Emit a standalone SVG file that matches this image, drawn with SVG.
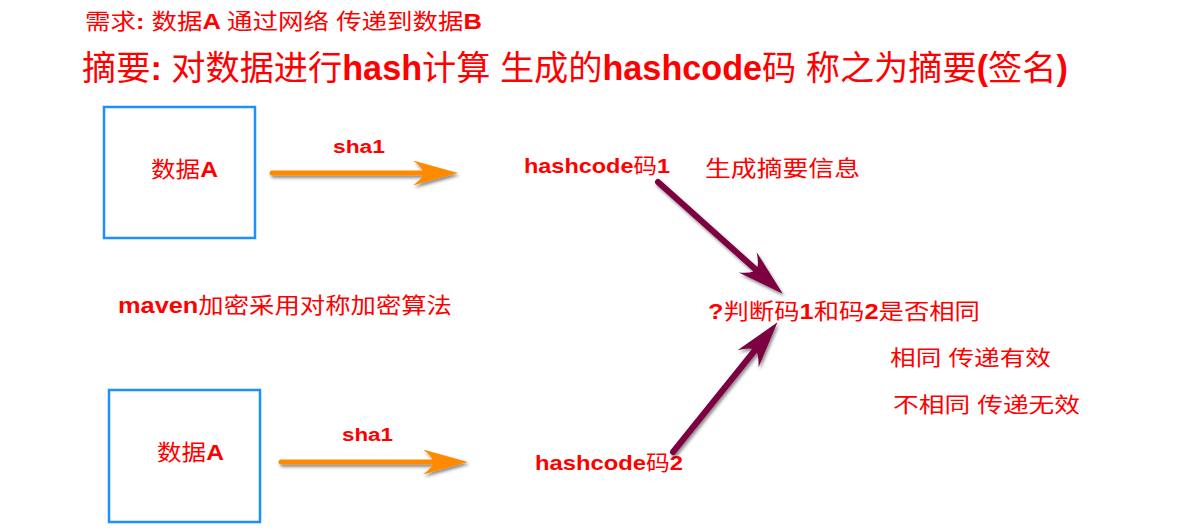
<svg xmlns="http://www.w3.org/2000/svg" width="1184" height="531" viewBox="0 0 1184 531">
  <style>
    text { font-family: "Liberation Sans", "Noto Sans CJK SC", sans-serif; fill: #ff0000; font-weight: normal; }
    .b { font-weight: bold; }
    .box { fill: #ffffff; stroke: #1e8fff; stroke-width: 2.5; }
    .orange { stroke: #ff8a00; stroke-width: 5; stroke-linecap: round; fill: none; }
    .purple { stroke: #7d0040; stroke-width: 6; stroke-linecap: round; fill: none; }
  </style>
  <defs>
    <filter id="shadow" x="-20%" y="-50%" width="140%" height="200%">
      <feDropShadow dx="1.5" dy="2.5" stdDeviation="1.5" flood-color="#000" flood-opacity="0.45"/>
    </filter>
    <marker id="headOrange" viewBox="0 0 46 25" refX="10" refY="12.5" markerWidth="46" markerHeight="25" markerUnits="userSpaceOnUse" orient="auto">
      <path d="M46,12.5 L1,0 Q13,9 10,12.5 Q13,16 1,25 Z" fill="#ff8a00"/>
    </marker>
    <marker id="headPurple" viewBox="0 0 48 27" refX="11" refY="13.5" markerWidth="48" markerHeight="27" markerUnits="userSpaceOnUse" orient="auto">
      <path d="M48,13.5 L1,0 Q14,10 11,13.5 Q14,17 1,27 Z" fill="#7d0040"/>
    </marker>
  </defs>
  <rect width="1184" height="531" fill="#ffffff"/>

  <g id="title1">
    <text x="85" y="29" font-size="22" textLength="397" lengthAdjust="spacingAndGlyphs">需求<tspan class="b">: </tspan>数据<tspan class="b">A </tspan>通过网络 传递到数据<tspan class="b">B</tspan></text>
  </g>
  <g id="title2">
    <text x="82" y="80" font-size="34.2">摘要<tspan class="b">: </tspan>对数据进行<tspan class="b">hash</tspan>计算 生成的<tspan class="b">hashcode</tspan>码 称之为摘要<tspan class="b">(</tspan>签名<tspan class="b">)</tspan></text>
  </g>

  <g id="dataA1">
    <rect class="box" x="104" y="107" width="151" height="131"/>
    <text x="151" y="177" font-size="22" textLength="67" lengthAdjust="spacingAndGlyphs">数据<tspan class="b">A</tspan></text>
  </g>
  <g id="dataA2">
    <rect class="box" x="109" y="390" width="151" height="132"/>
    <text x="157" y="460" font-size="22" textLength="67" lengthAdjust="spacingAndGlyphs">数据<tspan class="b">A</tspan></text>
  </g>

  <g id="hash1">
    <text x="524" y="173" font-size="21" textLength="146" lengthAdjust="spacingAndGlyphs"><tspan class="b">hashcode</tspan>码<tspan class="b">1</tspan></text>
  </g>
  <g id="digestNote">
    <text x="705" y="176" font-size="22" textLength="155" lengthAdjust="spacingAndGlyphs">生成摘要信息</text>
  </g>
  <g id="mavenNote">
    <text x="118" y="313" font-size="22" textLength="334" lengthAdjust="spacingAndGlyphs"><tspan class="b">maven</tspan>加密采用对称加密算法</text>
  </g>
  <g id="compare">
    <text x="708" y="319" font-size="22" textLength="272" lengthAdjust="spacingAndGlyphs"><tspan class="b">?</tspan>判断码<tspan class="b">1</tspan>和码<tspan class="b">2</tspan>是否相同</text>
  </g>
  <g id="same">
    <text x="890" y="365" font-size="21" textLength="161" lengthAdjust="spacingAndGlyphs">相同 传递有效</text>
  </g>
  <g id="notSame">
    <text x="893" y="412" font-size="21" textLength="187" lengthAdjust="spacingAndGlyphs">不相同 传递无效</text>
  </g>
  <g id="hash2">
    <text x="535" y="470" font-size="21" textLength="148" lengthAdjust="spacingAndGlyphs"><tspan class="b">hashcode</tspan>码<tspan class="b">2</tspan></text>
  </g>

  <g id="connectors">
    <g filter="url(#shadow)">
      <line class="orange" x1="272" y1="173" x2="422" y2="173" marker-end="url(#headOrange)"/>
      <line class="orange" x1="281" y1="462" x2="432" y2="462" marker-end="url(#headOrange)"/>
      <line class="purple" x1="658" y1="182" x2="755.2" y2="269" marker-end="url(#headPurple)"/>
      <line class="purple" x1="673" y1="452" x2="754.3" y2="351" marker-end="url(#headPurple)"/>
    </g>
    <g id="label-sha1-top">
      <text x="333" y="153" font-size="18" textLength="52" lengthAdjust="spacingAndGlyphs" class="b">sha1</text>
    </g>
    <g id="label-sha1-bottom">
      <text x="342" y="441" font-size="18" textLength="51" lengthAdjust="spacingAndGlyphs" class="b">sha1</text>
    </g>
  </g>
</svg>
